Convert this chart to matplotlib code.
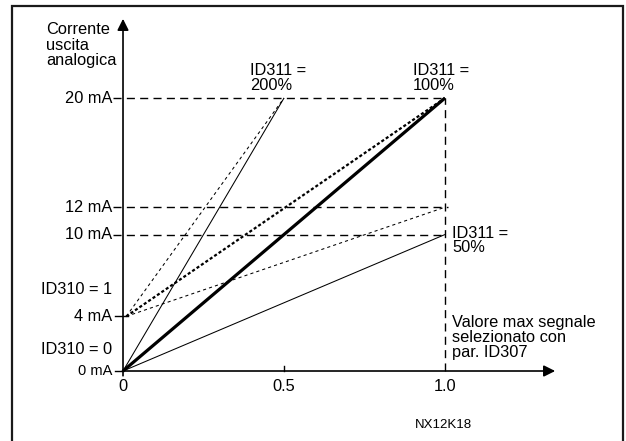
"""Analogue output current vs. signal value, for ID310 (offset) and ID311 (scaling)."""

import matplotlib
matplotlib.use("Agg")
import matplotlib.pyplot as plt
from matplotlib.patches import Rectangle

plt.rcParams["font.family"] = ["Liberation Sans", "DejaVu Sans"]

# signal value at which each scaling reaches its end point
gain_labels = ["ID311 =\n200%", "ID311 =\n100%", "ID311 =\n50%"]
end_x = [0.5, 1.0, 1.0]
# output current at that end point, ID310 = 0 (0 mA start) and ID310 = 1 (4 mA start)
end_y_id310_0 = [20, 20, 10]
end_y_id310_1 = [20, 20, 12]
start_y = {"ID310 = 0": 0, "ID310 = 1": 4}

ref_levels = [20, 12, 10]
ytick_vals = [20, 12, 10, 4, 0]
ytick_labels = ["20 mA", "12 mA", "10 mA", "4 mA", "0 mA"]
xtick_vals = [0, 0.5, 1.0]
xtick_labels = ["0", "0.5", "1.0"]

FS = 11.8


def main():
    fig = plt.figure(figsize=(6.26, 4.41), dpi=100)
    ax = fig.add_axes([0, 0, 1, 1])
    ax.set_xlim(-0.382, 1.562)
    ax.set_ylim(-5.128, 27.18)
    ax.axis("off")

    # outer frame
    fig.patches.append(Rectangle((12 / 626, -0.1), 611 / 626, 435 / 441 + 0.1,
                                 transform=fig.transFigure, fill=False,
                                 edgecolor="#1a1a1a", lw=1.6))

    # axes with arrows
    arrow = dict(arrowstyle="-|>", color="black", lw=1.2, mutation_scale=17,
                 shrinkA=0, shrinkB=0)
    ax.annotate("", xy=(1.342, 0), xytext=(-0.002, 0), arrowprops=arrow)
    ax.annotate("", xy=(0, 25.8), xytext=(0, -0.35), arrowprops=arrow)
    ax.plot([0.5, 0.5], [0, 0.35], color="black", lw=1.0)
    ax.plot([-0.025, 0], [0, 0], color="black", lw=1.0)
    ax.plot([-0.025, 0.015], [4, 4], color="black", lw=1.0)

    # reference lines
    ref = dict(color="black", lw=1.0, linestyle=(0, (5.8, 3.8)))
    for lvl in ref_levels:
        ax.plot([-0.031, 1.0 if lvl != 12 else 1.01], [lvl, lvl], **ref)
    ax.plot([1.0, 1.0], [0, 20], **ref)

    # ID310 = 0 curves (solid), ID310 = 1 curves (dotted)
    y0 = start_y["ID310 = 0"]
    y1 = start_y["ID310 = 1"]
    for i, (xe, ya, yb) in enumerate(zip(end_x, end_y_id310_0, end_y_id310_1)):
        main_curve = gain_labels[i].endswith("100%")
        ax.plot([0, xe], [y0, ya], color="black",
                lw=2.3 if main_curve else 0.75, solid_capstyle="butt")
        ax.plot([0.01, xe], [y1, yb], color="black",
                lw=1.6 if main_curve else 0.75,
                linestyle=(0, (1.4, 1.0)) if main_curve else (0, (3, 3)))

    # texts
    ax.text(-0.239, 23.88, "Corrente\nuscita\nanalogica", ha="left", va="center",
            multialignment="left", fontsize=FS, linespacing=1.02)
    label_pos = [(0.394, 21.47), (0.901, 21.47), (1.022, 9.56)]
    for lab, (tx, ty) in zip(gain_labels, label_pos):
        ax.text(tx, ty, lab, ha="left", va="center", multialignment="left",
                fontsize=FS, linespacing=0.95)
    ax.text(1.022, 2.42, "Valore max segnale\nselezionato con\npar. ID307",
            ha="left", va="center", multialignment="left", fontsize=FS,
            linespacing=1.0)

    for v, lab in zip(ytick_vals, ytick_labels):
        ax.text(-0.034, v, lab, ha="right", va="center",
                fontsize=10.5 if v == 0 else FS)
    for name, v in start_y.items():
        ax.text(-0.034, 6.0 if v == 4 else 1.54, name, ha="right", va="center",
                fontsize=FS)
    for v, lab in zip(xtick_vals, xtick_labels):
        ax.text(v, -1.17, lab, ha="center", va="center", fontsize=FS)

    ax.text(0.994, -3.96, "NX12K18", ha="center", va="center", fontsize=9.5)

    fig.savefig("out.png", dpi=100)


if __name__ == "__main__":
    main()
